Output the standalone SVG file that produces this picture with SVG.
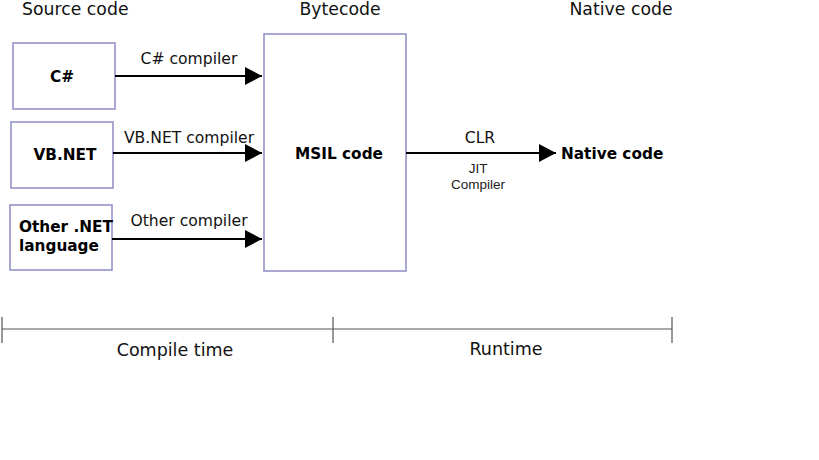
<svg xmlns="http://www.w3.org/2000/svg" width="819" height="460" viewBox="0 0 819 460">
<style>
.box{fill:#fff;stroke:#8c8cc4;stroke-width:1.5}
.hdr{font-family:"DejaVu Sans",sans-serif;font-size:17.3px;fill:#111}
.tlt{font-family:"DejaVu Sans",sans-serif;font-size:17.5px;fill:#111}
.lbl{font-family:"DejaVu Sans",sans-serif;font-size:15.3px;font-weight:bold;fill:#000}
.edge{font-family:"DejaVu Sans",sans-serif;font-size:15.6px;fill:#111}
.small{font-family:"Liberation Sans",Arial,sans-serif;font-size:13.5px;fill:#222}
.ln{stroke:#000;stroke-width:2;fill:none}
.tl{stroke:#555;stroke-width:1.2;fill:none}
</style>
<defs>
<marker id="ah" markerUnits="userSpaceOnUse" markerWidth="18" markerHeight="18" refX="17" refY="9" orient="auto">
<path d="M0,0 L17,9 L0,18 Z" fill="#000"/>
</marker>
</defs>
<rect width="819" height="460" fill="#fff"/>
<g id="headers">
<text class="hdr" x="22" y="15">Source code</text>
<text class="hdr" x="340" y="15" text-anchor="middle">Bytecode</text>
<text class="hdr" x="621" y="15" text-anchor="middle">Native code</text>
</g>
<g id="node-csharp">
<rect class="box" x="13" y="43" width="102" height="66"/>
<text class="lbl" x="62" y="82" text-anchor="middle">C#</text>
</g>
<g id="node-vbnet">
<rect class="box" x="11" y="122" width="102" height="66"/>
<text class="lbl" x="65" y="160" text-anchor="middle">VB.NET</text>
</g>
<g id="node-other">
<rect class="box" x="10" y="205" width="102" height="65"/>
<text class="lbl" x="19" y="232">Other .NET</text>
<text class="lbl" x="19" y="251">language</text>
</g>
<g id="node-msil">
<rect class="box" x="264" y="34" width="142" height="237"/>
<text class="lbl" x="339" y="159" text-anchor="middle">MSIL code</text>
</g>
<g id="node-native">
<text class="lbl" x="561" y="159">Native code</text>
</g>
<g id="connectors">
<line class="ln" x1="115" y1="76" x2="262" y2="76" marker-end="url(#ah)"/>
<text class="edge" x="189" y="64" text-anchor="middle">C# compiler</text>
<line class="ln" x1="113" y1="153" x2="262" y2="153" marker-end="url(#ah)"/>
<text class="edge" x="189" y="143" text-anchor="middle">VB.NET compiler</text>
<line class="ln" x1="112" y1="239" x2="262" y2="239" marker-end="url(#ah)"/>
<text class="edge" x="189" y="226" text-anchor="middle">Other compiler</text>
<line class="ln" x1="406" y1="153" x2="556" y2="153" marker-end="url(#ah)"/>
<text class="edge" x="480" y="143" text-anchor="middle">CLR</text>
<text class="small" x="478" y="173" text-anchor="middle">JIT</text>
<text class="small" x="478" y="189" text-anchor="middle">Compiler</text>
</g>
<g id="timeline">
<line class="tl" x1="2" y1="329" x2="672" y2="329"/>
<line class="tl" x1="2" y1="317" x2="2" y2="343"/>
<line class="tl" x1="333" y1="317" x2="333" y2="343"/>
<line class="tl" x1="672" y1="317" x2="672" y2="343"/>
<text class="tlt" x="175" y="356" text-anchor="middle">Compile time</text>
<text class="tlt" x="506" y="355" text-anchor="middle">Runtime</text>
</g>
</svg>
